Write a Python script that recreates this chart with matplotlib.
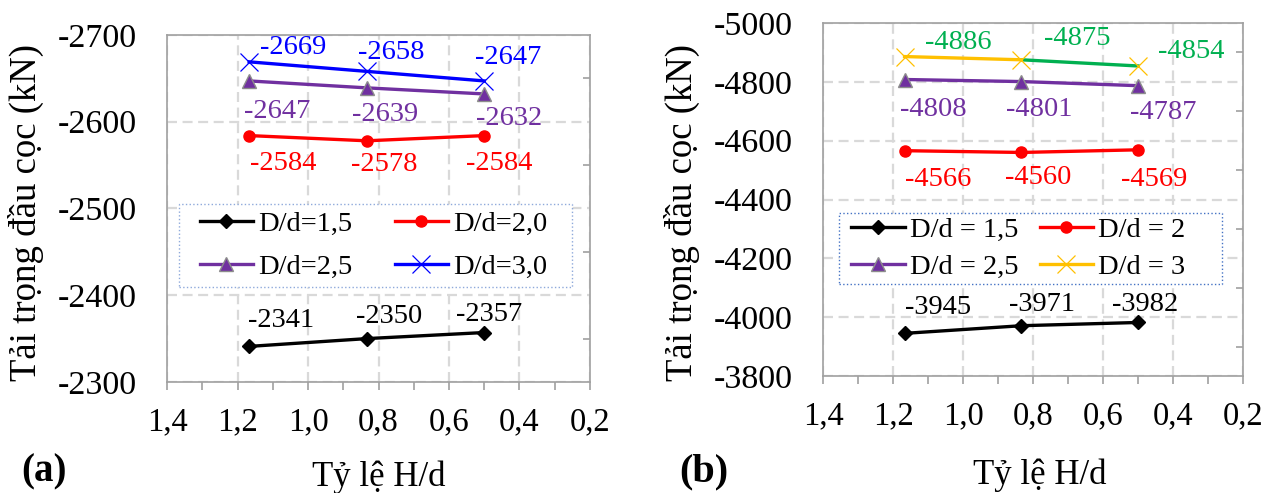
import numpy as np
import matplotlib.pyplot as plt
from matplotlib.patches import Rectangle
from matplotlib.ticker import MultipleLocator, FuncFormatter

plt.rcParams['font.family'] = ['Liberation Serif', 'DejaVu Serif']
plt.rcParams['axes.unicode_minus'] = False

# ty le H/d
hd = [1.167, 0.833, 0.5]

# panel (a)
a_15 = [-2341, -2350, -2357]
a_20 = [-2584, -2578, -2584]
a_25 = [-2647, -2639, -2632]
a_30 = [-2669, -2658, -2647]

# panel (b)
b_15 = [-3945, -3971, -3982]
b_20 = [-4566, -4560, -4569]
b_25 = [-4808, -4801, -4787]
b_30 = [-4886, -4875, -4854]

labels_a = ['D/d=1,5', 'D/d=2,0', 'D/d=2,5', 'D/d=3,0']
labels_b = ['D/d = 1,5', 'D/d = 2', 'D/d = 2,5', 'D/d = 3']

BLACK, RED, PURPLE, BLUE = '#000000', '#FF0000', '#7030A0', '#0000FF'
YELLOW, GREEN = '#FFC000', '#00B050'
GRID = '#D9D9D9'
SPINE = '#A0A0A0'

fig = plt.figure(figsize=(12.74, 4.93), dpi=100)
ax1 = fig.add_axes([0.1311, 0.2252, 0.332, 0.7039])
ax2 = fig.add_axes([0.646, 0.2373, 0.3297, 0.716])


def style(ax, ylo, yhi, ymaj, ymin, ylab_xy, xlab_xy):
    ax.set_xlim(1.4, 0.2)
    ax.set_ylim(ylo, yhi)
    ax.xaxis.set_major_locator(MultipleLocator(0.2))
    ax.xaxis.set_minor_locator(MultipleLocator(0.1))
    ax.xaxis.set_major_formatter(FuncFormatter(lambda v, p: f'{v:.1f}'.replace('.', ',')))
    ax.yaxis.set_major_locator(MultipleLocator(ymaj))
    ax.yaxis.set_minor_locator(MultipleLocator(ymin))
    ax.yaxis.set_major_formatter(FuncFormatter(lambda v, p: f'{v:.0f}'))
    ax.tick_params(axis='x', which='both', direction='out', length=6, width=1.2,
                   color=SPINE, labelsize=23.5, pad=12)
    ax.tick_params(axis='y', which='major', length=0, labelsize=24.5, pad=21.6)
    ax.tick_params(axis='y', which='minor', left=False, right=True, direction='in',
                   length=5, width=1.2, color=SPINE)
    ax.grid(True, which='major', color=GRID, linestyle=(0, (4.5, 2.5)), linewidth=1.6)
    ax.set_axisbelow(True)
    for s in ax.spines.values():
        s.set_color(SPINE)
        s.set_linewidth(1.2)
    ax.set_xlabel('Tỷ lệ H/d', fontsize=25, va='center')
    ax.xaxis.set_label_coords(*xlab_xy)
    ax.set_ylabel('Tải trọng đầu cọc (kN)', fontsize=26.5, va='center')
    ax.yaxis.set_label_coords(*ylab_xy)


def annot(ax, xs, ys, offs, color):
    for x, y, (dx, dy) in zip(xs, ys, offs):
        ax.annotate(f'{y}', (x, y), xytext=(dx, dy), textcoords='offset pixels',
                    ha='center', va='center', fontsize=20.5, color=color)


def legend(ax, center, box, edge, hl, cs, ls):
    h, l = ax.get_legend_handles_labels()
    order = [0, 2, 1, 3]  # fill row by row
    ax.legend([h[i] for i in order], [l[i] for i in order], loc='center',
              bbox_to_anchor=center, ncol=2, fontsize=20.5, frameon=False,
              handlelength=hl, handletextpad=0.18, columnspacing=cs,
              labelspacing=ls, borderpad=0)
    x0, y0, x1, y1 = box
    ax.add_patch(Rectangle((x0, y0), x1 - x0, y1 - y0, transform=ax.transAxes,
                           facecolor='white', edgecolor=edge, linestyle=':',
                           linewidth=1.0, zorder=2.5))


lw = 2.4
# ---- (a)
ax = ax1
style(ax, -2300, -2700, 100, 50, (-0.333, 0.487), (0.5, -0.274))
ax.plot(hd, a_15, color=BLACK, lw=lw, marker='D', ms=7, label=labels_a[0])
ax.plot(hd, a_20, color=RED, lw=lw, marker='o', ms=8, label=labels_a[1])
ax.plot(hd, a_25, color=PURPLE, lw=lw, marker='^', ms=10, mec='#8C8C8C', mew=1, label=labels_a[2])
ax.plot(hd, a_30, color=BLUE, lw=lw, marker='x', ms=13, mew=0.9, label=labels_a[3])
annot(ax, hd, a_30, [(44, 14), (24, 19), (24, 23)], BLUE)
annot(ax, hd, a_25, [(28, -31), (18, -27), (25, -25)], PURPLE)
annot(ax, hd, a_20, [(34, -28), (17, -24), (15, -28)], RED)
annot(ax, hd, a_15, [(32, 26), (22, 22), (5, 18)], BLACK)
legend(ax, (0.488, 0.393), (0.028, 0.274, 0.957, 0.513), '#8EA9DB', 1.86, 1.5, 0.62)
fig.text(0.017, 0.043, '(a)', fontsize=28, fontweight='bold', va='center')

# ---- (b)
ax = ax2
style(ax, -3800, -5000, 200, 100, (-0.336, 0.462), (0.516, -0.28))
ax.plot(hd, b_15, color=BLACK, lw=lw, marker='D', ms=7, label=labels_b[0])
ax.plot(hd, b_20, color=RED, lw=lw, marker='o', ms=8, label=labels_b[1])
ax.plot(hd, b_25, color=PURPLE, lw=lw, marker='^', ms=10, mec='#8C8C8C', mew=1, label=labels_b[2])
ax.plot(hd[1:], b_30[1:], color=GREEN, lw=lw)
ax.plot(hd[:2], b_30[:2], color=YELLOW, lw=lw)
ax.plot(hd, b_30, color=YELLOW, lw=0, marker='x', ms=13, mew=0.9)
ax.plot([], [], color=YELLOW, lw=lw, marker='x', ms=13, mew=0.9, label=labels_b[3])
annot(ax, hd, b_30, [(54, 14), (56, 21), (53, 14)], GREEN)
annot(ax, hd, b_25, [(29, -30), (18, -28), (25, -27)], PURPLE)
annot(ax, hd, b_20, [(34, -29), (17, -25), (16, -30)], RED)
annot(ax, hd, b_15, [(34, 26), (21, 21), (7, 18)], BLACK)
legend(ax, (0.465, 0.361), (0.038, 0.261, 0.95, 0.463), '#4472C4', 1.87, 0.76, 0.41)
fig.text(0.533, 0.043, '(b)', fontsize=29, fontweight='bold', va='center')

fig.savefig('out.png', dpi=100)
